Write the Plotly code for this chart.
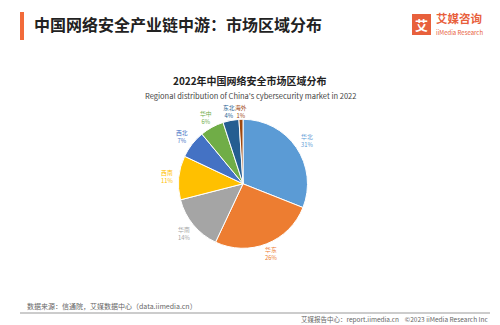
import math
import plotly.graph_objects as go

regions = ["华北", "华东", "华南", "西南", "西北", "华中", "东北", "海外"]
shares = [31, 26, 14, 11, 7, 6, 4, 1]
colors = ["#5B9BD5", "#ED7D31", "#A5A5A5", "#FFC000", "#4472C4", "#70AD47", "#255E91", "#9E480E"]

FONT = "Noto Sans CJK SC"
W, H = 500, 325
DOM_X = [0.357, 0.615]
DOM_Y = [0.236, 0.633]

fig = go.Figure(go.Pie(
    labels=regions, values=shares, sort=False, direction="clockwise", rotation=0,
    marker=dict(colors=colors, line=dict(color="white", width=1)),
    textinfo="none",
    domain=dict(x=DOM_X, y=DOM_Y),
    showlegend=False, hoverinfo="label+percent",
))

# slice labels placed just outside the pie, at each slice's mid-angle
cx = (DOM_X[0] + DOM_X[1]) / 2 * W
cy = (DOM_Y[0] + DOM_Y[1]) / 2 * H
r = min((DOM_X[1] - DOM_X[0]) * W, (DOM_Y[1] - DOM_Y[0]) * H) / 2
total = sum(shares)
label_ann = []
cum = 0
for lab, v, c in zip(regions, shares, colors):
    mid = (cum + v / 2) / total * 2 * math.pi
    cum += v
    s, co = math.sin(mid), math.cos(mid)
    rr = r + 4 + abs(s) * 8 + abs(co) * 4
    px = cx + rr * s
    py = cy + rr * co
    label_ann.append(dict(x=px / W, y=py / H, text=f"{lab}<br>{v}%", xanchor="center", yanchor="middle",
                          font=dict(size=5.8, color=c, family=FONT)))

ann = [
    dict(x=32/W, y=1-24/H, text="<b>中国网络安全产业链中游：市场区域分布</b>", xanchor="left", yanchor="middle",
         font=dict(size=16, color="#222222", family=FONT)),
    dict(x=0.5, y=1-80/H, text="<b>2022年中国网络安全市场区域分布</b>", xanchor="center", yanchor="middle",
         font=dict(size=10, color="#222222", family=FONT)),
    dict(x=0.5, y=1-96/H, text="Regional distribution of China's cybersecurity market in 2022", xanchor="center", yanchor="middle",
         font=dict(size=7.5, color="#444444", family=FONT)),
    dict(x=25/W, y=1-306/H, text="数据来源：信通院，艾媒数据中心（data.iimedia.cn）", xanchor="left", yanchor="middle",
         font=dict(size=7, color="#666666", family=FONT)),
    dict(x=490/W, y=1-319/H, text="艾媒报告中心：report.iimedia.cn    ©2023 iiMedia Research Inc", xanchor="right", yanchor="middle",
         font=dict(size=6.5, color="#666666", family=FONT)),
    dict(x=421/W, y=1-24/H, text="<b>艾</b>", xanchor="center", yanchor="middle",
         font=dict(size=13, color="white", family=FONT)),
    dict(x=434/W, y=1-18/H, text="<b>艾媒咨询</b>", xanchor="left", yanchor="middle",
         font=dict(size=11.5, color="#E8603C", family=FONT)),
    dict(x=434/W, y=1-32/H, text="iiMedia Research", xanchor="left", yanchor="middle",
         font=dict(size=6, color="#E8603C", family=FONT)),
] + label_ann
for a in ann:
    a.update(xref="paper", yref="paper", showarrow=False)

shapes = [
    dict(type="rect", x0=20/W, x1=24/W, y0=1-40/H, y1=1-12/H, fillcolor="#F26B3A", line_width=0),
    dict(type="rect", x0=412/W, x1=431/W, y0=1-35/H, y1=1-14/H, fillcolor="#E8603C", line_width=0),
    dict(type="line", x0=20/W, x1=490/W, y0=1-313/H, y1=1-313/H, line=dict(color="#BBBBBB", width=1.5)),
]
for s_ in shapes:
    s_.update(xref="paper", yref="paper")

fig.update_layout(
    width=W, height=H, margin=dict(l=0, r=0, t=0, b=0),
    paper_bgcolor="white", plot_bgcolor="white",
    annotations=ann, shapes=shapes,
    font=dict(family=FONT),
)

fig.write_html("out.html")
